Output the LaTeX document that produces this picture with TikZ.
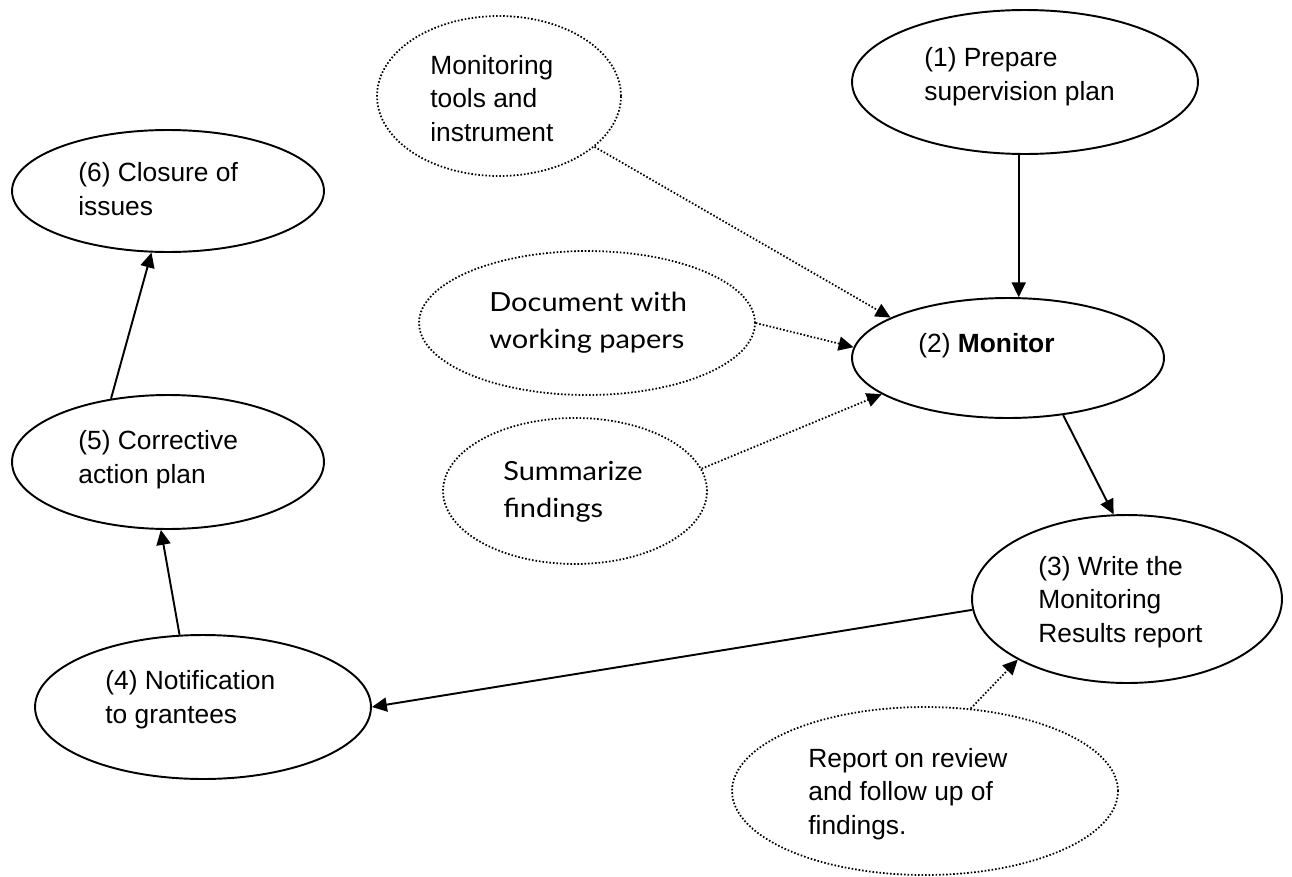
\documentclass[tikz,border=0pt]{standalone}
\usepackage{fontspec}
\setmainfont{Liberation Sans}
\newfontfamily\aptosfont[FakeStretch=1.1]{Lato}
\usepackage{tikz}
\usetikzlibrary{shapes.geometric}
\usetikzlibrary{arrows.meta}

\begin{document}
\begin{tikzpicture}[x=0.02cm, y=-0.02cm,
		stage/.style={ellipse, draw, line width=1.1pt, inner sep=0pt},
		aid/.style={ellipse, draw, line width=1pt, dash pattern=on 0.9pt off 1.1pt, inner sep=0pt},
		lbl/.style={anchor=base west, inner sep=0pt, align=left, font=\fontsize{15pt}{18.8pt}\selectfont},
		lblb/.style={lbl, font=\fontsize{15pt}{21pt}\selectfont\aptosfont},
		flow/.style={-{Triangle[length=8.5pt, width=8pt]}, line width=1.1pt},
		feed/.style={flow, line width=1pt, dash pattern=on 0.9pt off 1.1pt}]
		\useasboundingbox (0,0) rectangle (1292,876);
		\node[stage, minimum width=6.92cm, minimum height=2.88cm](prep) at (1025,82){};
		\node[stage, minimum width=6.24cm, minimum height=2.4cm](monitor) at (1008,358){};
		\node[stage, minimum width=6.2cm, minimum height=3.36cm](report) at (1127,599){};
		\node[stage, minimum width=6.72cm, minimum height=2.88cm](notify) at (203,707){};
		\node[stage, minimum width=6.24cm, minimum height=2.68cm](correct) at (168,462){};
		\node[stage, minimum width=6.24cm, minimum height=2.44cm](closure) at (168,191){};
		\node[aid, minimum width=4.88cm, minimum height=3.2cm](tools) at (499,96){};
		\node[aid, minimum width=6.72cm, minimum height=2.88cm](papers) at (587,323){};
		\node[aid, minimum width=5.28cm, minimum height=2.92cm](summary) at (575,491){};
		\node[aid, minimum width=7.72cm, minimum height=3.36cm](review) at (925,791){};
		\node[lbl](prep-t) at (924,100){(1) Prepare\\supervision plan};
		\node[lbl](monitor-t) at (918,352){(2) \textbf{Monitor}};
		\node[lbl](report-t) at (1038,642){(3) Write the\\Monitoring\\Results report};
		\node[lbl](notify-t) at (105,723){(4) Notification\\to grantees};
		\node[lbl](correct-t) at (78,483){(5) Corrective\\action plan};
		\node[lbl](closure-t) at (78,215){(6) Closure of\\issues};
		\node[lbl](tools-t) at (430,141){Monitoring\\tools and\\instrument};
		\node[lblb](papers-t) at (489,348){Document with\\working papers};
		\node[lblb](summary-t) at (503,517){Summarize\\findings};
		\node[lbl](review-t) at (808,834){Report on review\\and follow up of\\findings.};
		\draw[flow] (monitor.80 |- prep.south) -- (monitor.80);
		\draw[feed] (tools.332) -- (monitor.161);
		\draw[feed] (papers.east) -- (monitor.176);
		\draw[feed] (summary.10) -- (monitor.196);
		\draw[flow] (monitor.314) -- (report.99);
		\draw[flow] (report.184) -- (notify.east);
		\draw[feed] (review.61) -- (report.209);
		\draw[flow] (notify.108) -- (correct.264);
		\draw[flow] (correct.132) -- (closure.255);
	\end{tikzpicture}
\end{document}
